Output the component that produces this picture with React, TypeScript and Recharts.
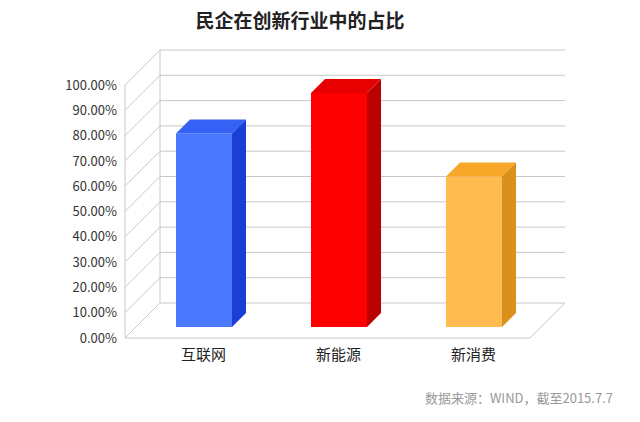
import { BarChart, Bar, XAxis, YAxis, CartesianGrid } from "recharts";

const categories = ["互联网", "新能源", "新消费"];
const shares = [0.765, 0.925, 0.595];
const yTicks = [0, 0.1, 0.2, 0.3, 0.4, 0.5, 0.6, 0.7, 0.8, 0.9, 1.0];

const COLORS = [
  { front: "#4a78ff", top: "#3562f5", side: "#1a3fd6" },
  { front: "#ff0000", top: "#e60000", side: "#bb0000" },
  { front: "#ffbb50", top: "#f7a828", side: "#d9911c" },
];

const data = categories.map((name, i) => ({ name, value: shares[i], idx: i }));

const DEPTH = 35;
const BAR_D = 11;
const BAR_T = 14;
const FONT = "'Noto Sans CJK SC', 'Noto Sans', sans-serif";

function Bar3D(props: any) {
  const { x, y, width, height, payload } = props;
  const c = COLORS[payload.idx];
  const fx = x + BAR_D;
  const fy = y - BAR_D;
  const w = width;
  const h = height;
  return (
    <g>
      <rect x={fx} y={fy} width={w} height={h} fill={c.front} />
      <polygon
        points={`${fx},${fy} ${fx + w},${fy} ${fx + w + BAR_T},${fy - BAR_T} ${fx + BAR_T},${fy - BAR_T}`}
        fill={c.top}
      />
      <polygon
        points={`${fx + w},${fy} ${fx + w + BAR_T},${fy - BAR_T} ${fx + w + BAR_T},${fy + h - BAR_T} ${fx + w},${fy + h}`}
        fill={c.side}
      />
    </g>
  );
}

function GridLine(props: any) {
  const { x1, x2, y1 } = props;
  const stroke = "#c8c8c8";
  const bottom = Math.abs(y1 - 338) < 1;
  return (
    <g>
      <line x1={x1} y1={y1} x2={x1 + DEPTH} y2={y1 - DEPTH} stroke={stroke} />
      <line x1={x1 + DEPTH} y1={y1 - DEPTH} x2={x2 + DEPTH} y2={y1 - DEPTH} stroke={stroke} />
      {bottom && (
        <>
          <line x1={x1} y1={y1} x2={x2} y2={y1} stroke={stroke} />
          <line x1={x2} y1={y1} x2={x2 + DEPTH} y2={y1 - DEPTH} stroke={stroke} />
          <line x1={x1 + DEPTH} y1={y1 - DEPTH} x2={x1 + DEPTH} y2={85 - DEPTH} stroke={stroke} />
          <line x1={x1} y1={y1} x2={x1} y2={85} stroke={stroke} />
        </>
      )}
    </g>
  );
}

function CatTick(props: any) {
  const { x, y, payload } = props;
  return (
    <text x={x + BAR_D} y={y + 14} textAnchor="middle" fontSize={15} fill="#222" fontFamily={FONT}>
      {payload.value}
    </text>
  );
}

export default function App() {
  return (
    <div style={{ position: "fixed", left: 0, top: 0, width: 640, height: 422, background: "#fff" }}>
      <div
        style={{
          position: "absolute", left: 0, width: 600, top: 6, textAlign: "center",
          fontSize: 19, fontWeight: "bold", color: "#222", fontFamily: FONT,
        }}
      >
        民企在创新行业中的占比
      </div>
      <BarChart
        width={640}
        height={422}
        data={data}
        margin={{ top: 85, right: 110, left: 8, bottom: 54 }}
      >
        <CartesianGrid vertical={false} horizontal={GridLine as any} />
        <XAxis dataKey="name" axisLine={false} tickLine={false} tick={CatTick as any} height={30} />
        <YAxis
          width={117}
          domain={[0, 1]}
          ticks={yTicks}
          axisLine={false}
          tickLine={false}
          interval={0}
          tickFormatter={(v: number) => `${(v * 100).toFixed(2)}%`}
          tick={{ fontSize: 13, fill: "#333", fontFamily: FONT }}
        />
        <Bar dataKey="value" barSize={56} shape={Bar3D as any} isAnimationActive={false} />
      </BarChart>
      <div
        style={{
          position: "absolute", right: 27, top: 388, fontSize: 13, color: "#999", fontFamily: FONT,
        }}
      >
        数据来源：WIND，截至2015.7.7
      </div>
    </div>
  );
}
